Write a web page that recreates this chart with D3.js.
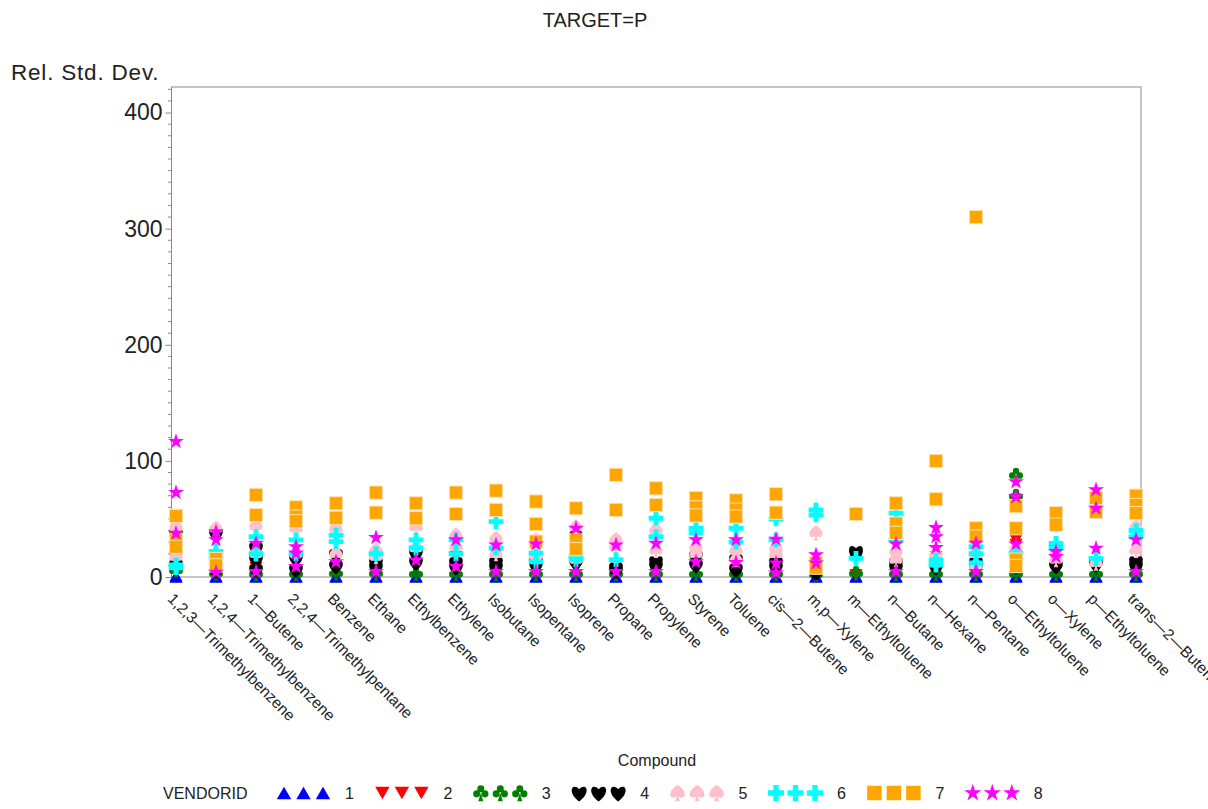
<!DOCTYPE html>
<html lang="en">
<head>
<meta charset="UTF-8">
<title>TARGET=P</title>
<style>
body{margin:0;background:#fff;}
text{font-family:"Liberation Sans",Arial,sans-serif;fill:#222;}
</style>
</head>
<body>
<script src="https://cdn.jsdelivr.net/npm/d3@7"></script>
<script>
// categories on the x axis
var compounds=["1,2,3-Trimethylbenzene","1,2,4-Trimethylbenzene","1-Butene","2,2,4-Trimethylpentane","Benzene","Ethane",
  "Ethylbenzene","Ethylene","Isobutane","Isopentane","Isoprene","Propane","Propylene","Styrene","Toluene","cis-2-Butene",
  "m,p-Xylene","m-Ethyltoluene","n-Butane","n-Hexane","n-Pentane","o-Ethyltoluene","o-Xylene","p-Ethyltoluene","trans-2-Butene"]
var vendorIds=[1,2,3,4,5,6,7,8]
var yTicks=[0,100,200,300,400]

// rel. std. dev. per vendor, one list of replicates per compound (same order as compounds)
var v1=[[1,0],[0,0.5],[0,0.5],[0,0.5],[0,0.5],[0,0.5],[0,0.5],[0,0.5],[0,0.5],[0,0.5],[0,0.5],[0,0.5],[0,0.5],
  [0,0.5],[0,0.5],[0,0.5],[0,0.5],[0,0.5],[0,0.5],[0,0.5],[0,0.5],[1,0],[0,0.5],[0,0.5],[0,0.5]]
var v2=[[32,19],[10],[8],[5],[5],[14.5],[10],[17.5,8],[5],[5],[33,8],[3],[6],[10],[6],[8],[5],[2],[8],[17.5,6],[6],[32,28],[5],[10],[8]]
var v3=[[39,6],[3.5],[3],[3],[3.5],[3.5],[3],[3],[3],[3],[3],[3],[3],[3],[3],[3],[2.5],[3.5],
  [3],[3],[3],[88,70,3],[3],[3],[3]]
var v4=[[20,10],[37,5],[25,15,6],[15.5,6],[19,9],[12,8],[20,12],[12,8],[12,8],[13,10],[34.7,12],[7.5,5],[13,9],[17.5,10],
  [14.5,6],[12,8],[3.5],[21.8,20],[12,8],[12,8],[12,8],[16,12],[26,9],[10.5],[13,9]]
var v5=[[43,17.5],[42,20],[44,20],[42,20],[42,20],[23,17.5],[43,25],[36,26],[33,20],[32,18],[43,15],[32,26],[40.5,23],[26,20],
  [23,15],[25,20],[38],[],[22,15],[20,12],[20,10],[25,20],[20,15],[12],[43,23]]
var v6=[[10.3,8],[22,17.5],[34.7,20],[32,20],[36,30.5],[20],[32,25],[32,20],[47.7,25],[20.4,13],[18,15],[15],[50.6,34.7],[42,38],
  [42,30],[50,32],[57.8,53.4],[16],[55,32],[14.6,10.3],[26,20,12],[20.4],[29,25],[16],[34.7,40]]
var v7=[[52.6,32,26],[15.5,10],[70.7,53.4],[60,52,48],[63.5,51],[72.7,55.4],[63.5,50.6],[72.7,54.3],[74.4,57.8],[65,45.7,30.5],
  [59.2,32,24],[88,57.8],[76.4,62],[68,60,53],[66,58,52],[71.3,55.4],[12,8],[54.3],[63.5,46,38],[100,67],[310,42,34.7],
  [61,42,15,9.5],[55,45],[68,56],[70,62,55]]
var v8=[[116.6,72.7,37.6],[39,32,4],[29,4.6],[26,20.5,9],[13],[34,4.6],[14.6],[32,9],[27.6,4.6],[28.4,4.6],[42,4.6],[27.6,4.6],
  [29,4.6],[32,13],[32,12.4],[32.5,12,3.5],[19,12],[],[28.4,4.6],[42.5,34.7,25.3],[29,4.6],[82,69,28.4],[21.8,17.5],[75,59.2,24.7],[32,4.6]]
var vendors=[v1,v2,v3,v4,v5,v6,v7,v8]

// card-suit markers
var heart={draw:function(c,size){var r=Math.sqrt(size)/2
  c.moveTo(0,r)
  c.bezierCurveTo(-r*1.5,-r*0.1,-r*0.8,-r*1.3,0,-r*0.45)
  c.bezierCurveTo(r*0.8,-r*1.3,r*1.5,-r*0.1,0,r)
  c.closePath()}}
var spade={draw:function(c,size){var r=Math.sqrt(size)/2
  c.moveTo(0,-r)
  c.bezierCurveTo(-r*1.5,0,-r*0.8,r*1.0,0,r*0.35)
  c.bezierCurveTo(r*0.8,r*1.0,r*1.5,0,0,-r)
  c.closePath()
  c.moveTo(0,r*0.2);c.lineTo(-r*0.3,r);c.lineTo(r*0.3,r);c.closePath()}}
var club={draw:function(c,size){var r=Math.sqrt(size)/2,rr=r*0.42
  ;[[0,-0.5],[-0.5,0.1],[0.5,0.1]].forEach(function(p){
    c.moveTo(p[0]*r+rr,p[1]*r);c.arc(p[0]*r,p[1]*r,rr,0,2*Math.PI)})
  c.moveTo(0,0);c.lineTo(r*0.3,r);c.lineTo(-r*0.3,r);c.closePath()}}

// dy re-centres the triangles on their bounding box, as the original markers are
var styles=[
  {type:d3.symbolTriangle,size:75,color:'#0000ff',rot:0,dy:1.9},
  {type:d3.symbolTriangle,size:75,color:'#ff0000',rot:180,dy:-1.9},
  {type:club,size:230,color:'#007f00',rot:0,dy:0},
  {type:heart,size:240,color:'#000000',rot:0,dy:0},
  {type:spade,size:230,color:'#ffc0cb',rot:0,dy:0},
  {type:d3.symbolCross,size:120,color:'#00ffff',rot:0,dy:0},
  {type:d3.symbolSquare,size:175,color:'#ffa500',rot:0,dy:0},
  {type:d3.symbolStar,size:78,color:'#ff00ff',rot:0,dy:0}]

var width=1208,height=809
var pLeft=171.5,pRight=1141,pTop=87,pBottom=577

var svg=d3.select('body').append('svg').attr('width',width).attr('height',height)

var x=d3.scalePoint().domain(compounds).range([176,1136])
var y=d3.scaleLinear().domain([0,422]).range([pBottom,pTop])

// frame
svg.append('rect').attr('x',pLeft).attr('y',pTop).attr('width',pRight-pLeft).attr('height',pBottom-pTop)
   .attr('fill','none').attr('stroke','#8a8a8a').attr('stroke-width',1)

// y axis
var yAxis=d3.axisLeft(y).tickValues(yTicks).tickSize(6).tickPadding(3)
var gy=svg.append('g').attr('transform','translate('+pLeft+',0)').call(yAxis)
gy.select('.domain').remove()
gy.selectAll('line').attr('stroke','#8a8a8a')
gy.selectAll('text').style('font-size','23px').style('font-family','"Liberation Sans",Arial,sans-serif').attr('fill','#222')
gy.selectAll('.minor').data(d3.range(0,421,10).filter(function(d){return d%100!==0}))
  .enter().append('line').attr('class','minor')
  .attr('x1',-3.5).attr('x2',0).attr('y1',function(d){return y(d)}).attr('y2',function(d){return y(d)})
  .attr('stroke','#8a8a8a')

// x axis
var xAxis=d3.axisBottom(x).tickSize(6)
var gx=svg.append('g').attr('transform','translate(0,'+pBottom+')').call(xAxis)
gx.select('.domain').remove()
gx.selectAll('line').attr('stroke','#8a8a8a')
gx.selectAll('text')
  .text(function(d){return d.replace(/-/g,'\u2014')})
  .attr('x',0).attr('y',0).attr('dy','0.71em')
  .attr('transform','translate(-2,15) rotate(45)')
  .style('text-anchor','start').style('font-size','15.5px')
  .style('font-family','"Liberation Sans",Arial,sans-serif').attr('fill','#222')

// points, vendor 1 drawn first so vendor 8 sits on top
var points=[]
vendors.forEach(function(vals,k){
  vals.forEach(function(arr,i){
    arr.forEach(function(v){points.push({k:k,compound:compounds[i],value:v})})
  })
})
svg.append('g').selectAll('path').data(points).enter().append('path')
  .attr('d',function(d){return d3.symbol().type(styles[d.k].type).size(styles[d.k].size)()})
  .attr('transform',function(d){var s=styles[d.k]
    return 'translate('+x(d.compound)+','+(y(d.value)+s.dy)+') rotate('+s.rot+')'})
  .attr('fill',function(d){return styles[d.k].color})
  .attr('stroke',function(d){return d.k===6?'#ffe2b0':'none'})
  .attr('stroke-width',1)

// titles
svg.append('text').attr('x',595).attr('y',27).attr('text-anchor','middle').style('font-size','20px').text('TARGET=P')
svg.append('text').attr('x',11).attr('y',80).style('font-size','22.5px').style('letter-spacing','0.8px').text('Rel. Std. Dev.')
svg.append('text').attr('x',657).attr('y',766).attr('text-anchor','middle').style('font-size','16px').text('Compound')

// legend
var leg=svg.append('g').attr('transform','translate(0,793)')
leg.append('text').attr('x',163).attr('y',6).style('font-size','16px').text('VENDORID')
var item=leg.selectAll('.item').data(vendorIds).enter().append('g').attr('class','item')
  .attr('transform',function(d,i){return 'translate('+(284+i*98.4)+',0)'})
item.each(function(d,i){
  var g=d3.select(this),s=styles[i]
  for(var j=0;j<3;j++){
    g.append('path').attr('d',d3.symbol().type(s.type).size(s.size*1.2)())
      .attr('transform','translate('+(j*19.5)+','+(s.dy*1.1)+') rotate('+s.rot+')')
      .attr('fill',s.color)
  }
  g.append('text').attr('x',61).attr('y',6).style('font-size','16px').text(d)
})
</script>
</body>
</html>
